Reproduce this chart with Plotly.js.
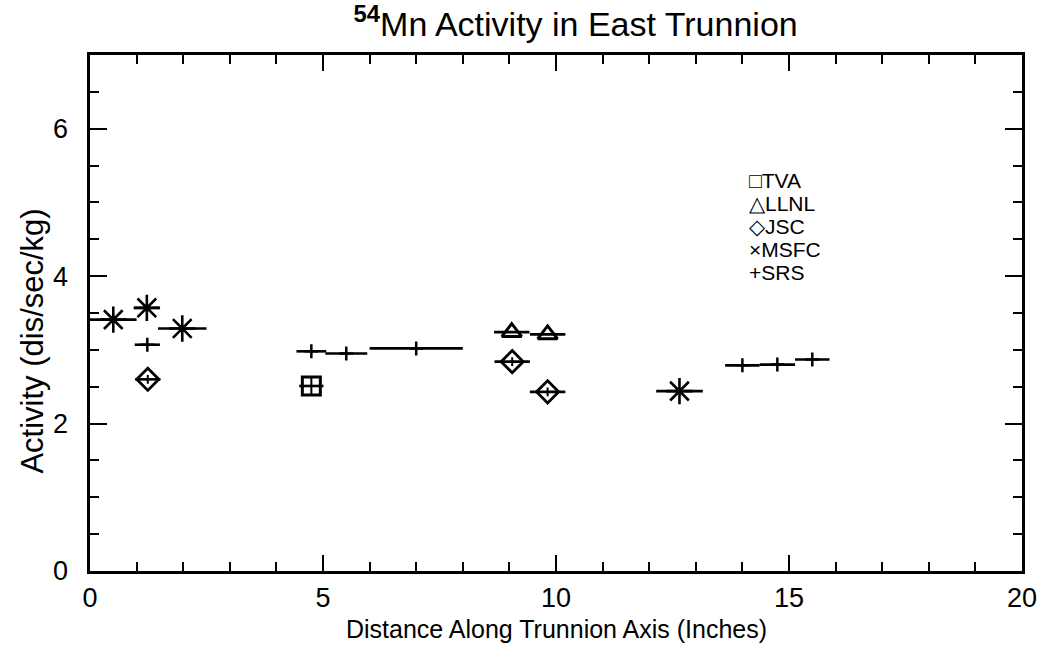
<!DOCTYPE html>
<html><head><meta charset="utf-8">
<script src="https://cdn.plot.ly/plotly-3.0.1.min.js"></script>
<style>html,body{margin:0;padding:0;background:#fff;} #chart{width:1041px;height:646px;}</style>
</head><body><div id="chart"></div>
<script>
// Data
const tvaX = [4.75], tvaY = [2.51], tvaXerr = [0.26], tvaYerr = [0.12];
const llnlX = [9.05, 9.82], llnlY = [3.24, 3.21], llnlXerr = [0.38, 0.38];
const jscX = [1.24, 9.06, 9.82], jscY = [2.60, 2.84, 2.43], jscXerr = [0.27, 0.38, 0.38], jscYerr = [0.06, 0.06, 0.06];
const msfcX = [0.5, 1.22, 1.98, 12.65], msfcY = [3.41, 3.57, 3.29, 2.44], msfcXerr = [0.5, 0.27, 0.52, 0.5];
const srsX = [1.23, 4.75, 5.5, 7.0, 14.0, 14.75, 15.5], srsY = [3.07, 2.98, 2.95, 3.02, 2.79, 2.80, 2.87], srsXerr = [0.27, 0.32, 0.45, 1.0, 0.37, 0.38, 0.37];

const legendLabels = ['TVA', 'LLNL', 'JSC', 'MSFC', 'SRS'];
const legendGlyphs = ['\u25A1', '\u25B3', '\u25C7', '\u00D7', '+'];
const xTickVals = [0, 5, 10, 15, 20];
const yTickVals = [0, 2, 4, 6];
const titleText = '<sup><b>54</b></sup>Mn Activity in East Trunnion';
const xTitleText = 'Distance Along Trunnion Axis (Inches)';
const yTitleText = 'Activity (dis/sec/kg)';

const ink = '#000';
const FONT = 'Liberation Sans, Arial, sans-serif';
function errX(arr) { return {type: 'data', array: arr, visible: true, color: ink, thickness: 2.6, width: 0}; }
function errY(arr) { return {type: 'data', array: arr, visible: true, color: ink, thickness: 2, width: 0}; }

const traces = [
  {name: 'SRS', x: srsX, y: srsY, mode: 'markers', error_x: errX(srsXerr),
   marker: {symbol: 'cross-thin-open', size: 10, color: ink, line: {color: ink, width: 2.5}}},
  {name: 'TVA', x: tvaX, y: tvaY, mode: 'markers', error_x: errX(tvaXerr), error_y: errY(tvaYerr),
   marker: {symbol: 'square-open', size: 18, color: ink, line: {color: ink, width: 3}}},
  {name: 'LLNL', x: llnlX, y: llnlY, mode: 'markers', error_x: errX(llnlXerr),
   marker: {symbol: 'triangle-up-open', size: 17, color: ink, line: {color: ink, width: 3}}},
  {name: 'JSC', x: jscX, y: jscY, mode: 'markers', error_x: errX(jscXerr), error_y: errY(jscYerr),
   marker: {symbol: 'diamond-open', size: 17, color: ink, line: {color: ink, width: 2.8}}},
  {name: 'MSFC', x: msfcX, y: msfcY, mode: 'markers', error_x: errX(msfcXerr),
   marker: {symbol: 'asterisk-open', size: 22, color: ink, line: {color: ink, width: 2.6}}}
];

const legendAnn = legendLabels.map((lab, i) => ({
  xref: 'paper', yref: 'paper', x: 0.705, y: 0.756 - i * 0.0445,
  xanchor: 'left', yanchor: 'middle', showarrow: false,
  text: legendGlyphs[i] + lab,
  font: {family: FONT, size: 21, color: ink}
}));

const axisTitleAnn = [
  {xref: 'paper', yref: 'paper', x: 0.5, y: -0.113, xanchor: 'center', yanchor: 'middle',
   showarrow: false, text: xTitleText, font: {family: FONT, size: 25, color: ink}},
  {xref: 'paper', yref: 'paper', x: -0.062, y: 0.445, xanchor: 'center', yanchor: 'middle',
   showarrow: false, textangle: -90, text: yTitleText, font: {family: FONT, size: 31, color: ink}}
];

const layout = {
  width: 1041, height: 646,
  margin: {l: 90, r: 19, t: 55, b: 75, pad: 0},
  paper_bgcolor: '#fff', plot_bgcolor: '#fff',
  showlegend: false,
  title: {
    text: titleText,
    font: {family: FONT, size: 34, color: ink},
    x: 0.553, xref: 'container', xanchor: 'center',
    y: 0.962, yref: 'container', yanchor: 'middle'
  },
  xaxis: {
    range: [0, 20], tickvals: xTickVals, ticktext: xTickVals.map(String),
    ticks: 'inside', ticklen: 16, tickwidth: 2, tickcolor: ink,
    minor: {dtick: 1, ticks: 'inside', ticklen: 9, tickwidth: 2, tickcolor: ink},
    showline: true, linewidth: 2.6, linecolor: ink, mirror: 'ticks',
    showgrid: false, zeroline: false,
    ticklabelstandoff: 1,
    tickfont: {family: FONT, size: 27, color: ink}
  },
  yaxis: {
    range: [0, 7], tickvals: yTickVals, ticktext: yTickVals.map(String),
    ticks: 'inside', ticklen: 17, tickwidth: 2, tickcolor: ink,
    minor: {dtick: 0.5, ticks: 'inside', ticklen: 9, tickwidth: 2, tickcolor: ink},
    showline: true, linewidth: 2.6, linecolor: ink, mirror: 'ticks',
    showgrid: false, zeroline: false,
    ticklabelstandoff: 14,
    tickfont: {family: FONT, size: 27, color: ink}
  },
  annotations: legendAnn.concat(axisTitleAnn)
};

Plotly.newPlot('chart', traces, layout, {displayModeBar: false, staticPlot: true});
</script>
</body></html>
